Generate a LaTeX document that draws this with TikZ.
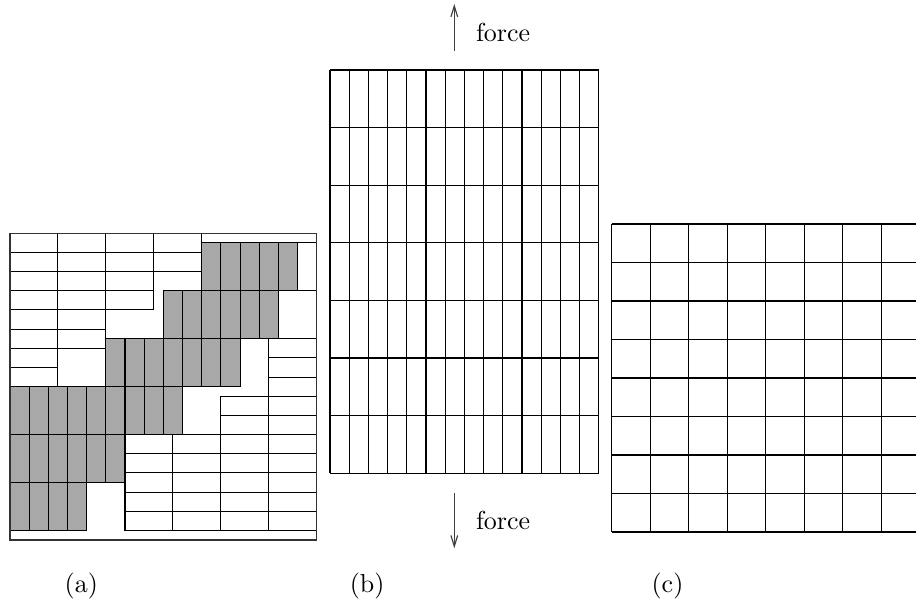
\documentclass[tikz,border=0pt]{standalone}
\usetikzlibrary{arrows.meta}
\definecolor{grain}{RGB}{168,168,168}
\begin{document}
\begin{tikzpicture}[x=0.385pt,y=-0.385pt,
  cellline/.style={draw=black,line width=0.4pt},
  graincell/.style={draw=black,fill=grain,line width=0.4pt},
  forcearrow/.style={draw=black!75,line width=0.45pt,-{Straight Barb[length=4.2pt,width=2.6pt]}},
  lbl/.style={anchor=base,inner sep=0pt,font=\normalsize}]
\useasboundingbox (0,0) rectangle (916,600);

% ---------------- panel (a) ----------------
\begin{scope}[shift={(10,233.3)},x=7.38pt,y=-7.38pt]
  % gray grain (vertical bricks)
  \foreach \yy/\xs/\n in {0.5/10/5, 3/8/6, 5.5/5/7, 8/0/9, 10.5/0/6, 13/0/4}{
    \foreach \k in {1,...,\n}{
      \draw[graincell] (\xs+\k-1,\yy) rectangle ++(1,2.5);
    }
  }
  % white top-left grain (horizontal bricks)
  \foreach \n [count=\r from 0] in {4,4,3,3,2,2,1,1}{
    \foreach \c in {1,...,\n}{
      \draw[cellline] (2.5*\c-2.5,\r) rectangle ++(2.5,1);
    }
  }
  % white bottom-right grain
  \foreach \xs/\ys/\n in {6/10.5/5, 8.5/10.5/5, 11/8.5/7, 13.5/5.5/10}{
    \foreach \k in {1,...,\n}{
      \draw[cellline] (\xs,\ys+\k-1) rectangle ++(2.5,1);
    }
  }
  \draw[cellline] (10,0.5) -- (16,0.5);
  \draw[cellline] (8,3) -- (16,3);
  % frame
  \draw[draw=black!80,line width=0.4pt] (0,0) rectangle (16,16);
\end{scope}

% ---------------- panel (b) ----------------
\foreach \i in {0,...,14}{
  \draw[cellline] (330+19.2*\i,70) -- ++(0,403.2);
}
\foreach \j in {0,...,7}{
  \draw[cellline] (330,70+57.6*\j) -- ++(268.8,0);
}
\coordinate (up0) at (454.3,50.7);
\coordinate (up1) at (454.3,4);
\draw[forcearrow] (up0) -- (up1);
\node[anchor=base west,inner sep=0pt] (fup) at (475.5,41.7) {force};
\coordinate (dn0) at (454.3,493.3);
\coordinate (dn1) at (454.3,548.3);
\draw[forcearrow] (dn0) -- (dn1);
\node[anchor=base west,inner sep=0pt] (fdn) at (475.5,529.3) {force};

% ---------------- panel (c) ----------------
\foreach \i in {0,...,7}{
  \draw[cellline] (611.7+38.5*\i,224) -- ++(0,308);
}
\foreach \j in {0,...,8}{
  \draw[cellline] (611.7,224+38.5*\j) -- (916,224+38.5*\j);
}

% ---------------- labels ----------------
\node[lbl] (la) at (81.3,593) {(a)};
\node[lbl] (lb) at (367.2,593) {(b)};
\node[lbl] (lc) at (667.5,593) {(c)};
\end{tikzpicture}
\end{document}
